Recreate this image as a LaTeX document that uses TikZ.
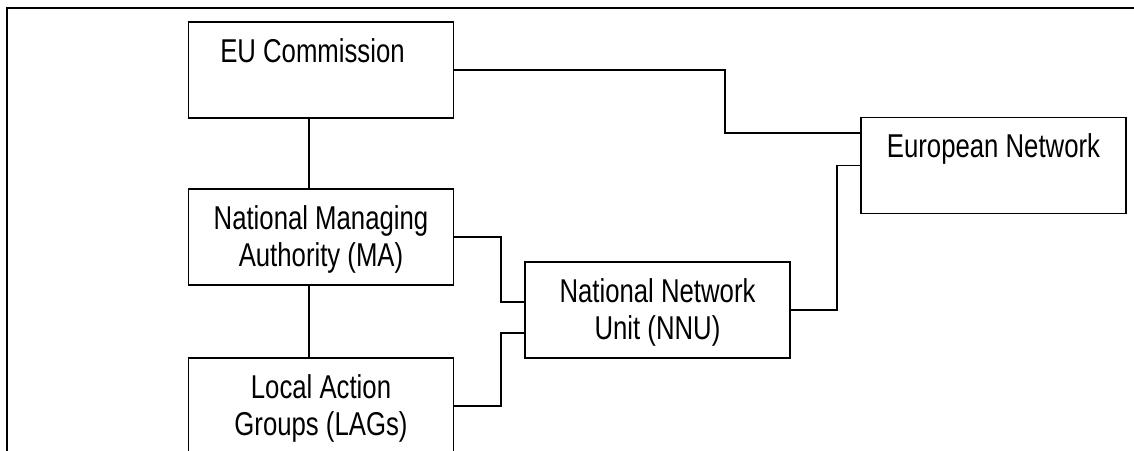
\documentclass[tikz,border=0pt]{standalone}
\usepackage{fontspec}
\setmainfont[FakeStretch=0.78]{Liberation Sans}
\newcommand{\boxtext}[1]{\parbox[c][96pt][t]{265pt}{\centering\vspace*{14.5pt}\strut #1}}
\tikzset{
  box/.style={draw, line width=1.6pt, inner sep=0pt, font=\fontsize{33}{37}\selectfont},
  link/.style={line width=1.6pt},
  frame/.style={line width=2.8pt, line join=miter}
}

\begin{document}
\begin{tikzpicture}[x=1pt, y=1pt]
\useasboundingbox (0,0) rectangle (1134,450);
\clip (0,0) rectangle (1134,450);
\draw[frame] (7,-5) -- (7,442) -- (1140,442);

\node[box] (eu)  at (321,380)   {\boxtext{EU Commission\hspace*{17pt}}};
\node[box] (ma)  at (321,213)   {\boxtext{National Managing\\Authority (MA)}};
\node[box] (lag) at (321,44)    {\boxtext{Local Action\\Groups (LAGs)}};
\node[box] (nnu) at (657.5,140) {\boxtext{National Network\\Unit (NNU)}};
\node[box] (en)  at (993.5,284.5) {\boxtext{European Network}};

\draw[link] ([xshift=-12pt]eu.south) -- ([xshift=-12pt]ma.north);
\draw[link] ([xshift=-12pt]ma.south) -- ([xshift=-12pt]lag.north);
\draw[link] (eu.east) -| ([xshift=-135pt,yshift=32.5pt]en.west) -- ([yshift=32.5pt]en.west);
\draw[link] (nnu.east) -| ([xshift=-23pt]en.west) -- (en.west);
\draw[link] (ma.east) -| ([xshift=-23pt,yshift=8pt]nnu.west) -- ([yshift=8pt]nnu.west);
\draw[link] (lag.east) -| ([xshift=-23pt,yshift=-23pt]nnu.west) -- ([yshift=-23pt]nnu.west);
\end{tikzpicture}
\end{document}
